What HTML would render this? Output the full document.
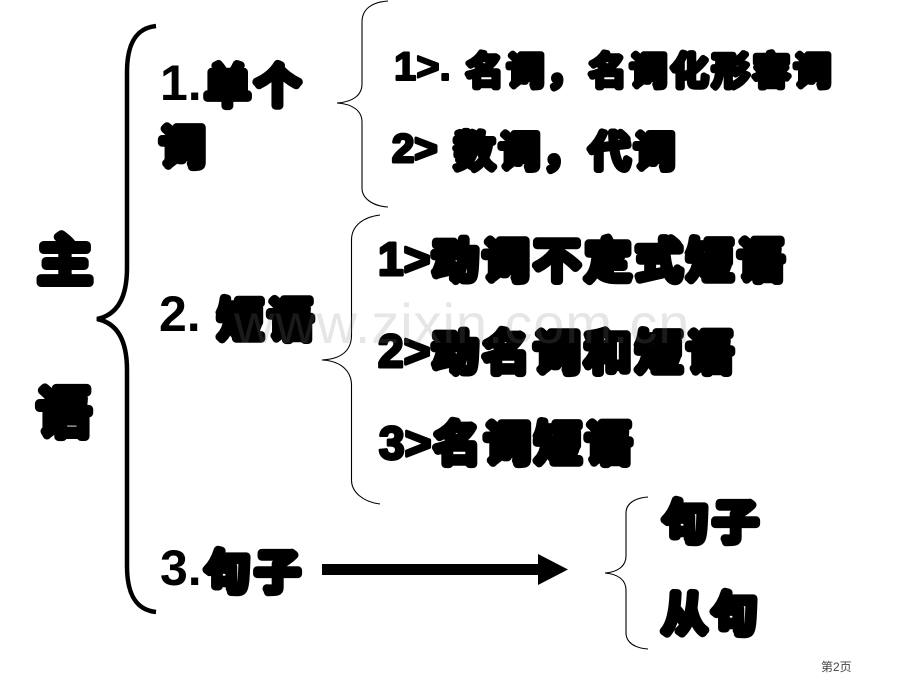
<!DOCTYPE html>
<html lang="zh">
<head>
<meta charset="utf-8">
<title>主语</title>
<style>
html,body{margin:0;padding:0;background:#fff;width:920px;height:690px;overflow:hidden}
svg{display:block}
.c{font-family:"Noto Sans CJK SC",sans-serif;font-weight:400;fill:#000;stroke:#000;stroke-linejoin:round;stroke-linecap:round;paint-order:stroke}
.d{font-family:"Liberation Sans",sans-serif;font-weight:700;fill:#000;stroke:#000;stroke-linejoin:round;paint-order:stroke}
.n{font-family:"Liberation Sans",sans-serif;font-weight:700;fill:#000}
.b{fill:none;stroke:#000;stroke-width:1.1}
</style>
</head>
<body>
<svg width="920" height="690" viewBox="0 0 920 690" xmlns="http://www.w3.org/2000/svg">
<!-- braces -->
<path d="M156 26C137 28 127 42 127 72L127 268C127 298 117 315 97 319C117 323 127 340 127 370L127 566C127 596 137 610 156 612" fill="none" stroke="#000" stroke-width="4.5"/>
<path class="b" d="M388 1C372 2 362 9 362 22L362 84C362 95 353 102 337 103C353 104 362 111 362 122L362 188C362 198 372 206 388 207"/>
<path class="b" d="M380 215C363 217 351.500 226 351.500 240L351.500 335C351.500 350 342 359 322 360C342 361 351.500 372 351.500 385L351.500 480C351.500 492 363 502 380 504"/>
<path class="b" d="M648 497C634 498 626 504 626 513L626 556C626 566 618 572 605 573C618 574 626 580 626 590L626 633C626 642 634 648 648 649"/>
<!-- arrow -->
<rect x="322" y="564" width="218" height="11" fill="#000"/>
<polygon points="538,554 568,569.500 538,585" fill="#000"/>
<!-- left -->
<text class="c" x="38" y="280" font-size="54" stroke-width="9">主</text>
<text class="c" x="37" y="432" font-size="54" stroke-width="9">语</text>
<!-- level 1 -->
<text class="n" x="160" y="100" font-size="50">1.</text>
<text class="c" x="205" y="102" font-size="45" stroke-width="8.500" letter-spacing="5">单个</text>
<text class="c" x="160" y="163" font-size="45" stroke-width="8.500">词</text>
<text class="n" x="159" y="331" font-size="50">2.</text>
<text class="c" x="218" y="336" font-size="45" stroke-width="8.500" letter-spacing="5">短语</text>
<text class="n" x="160" y="585" font-size="50">3.</text>
<text class="c" x="205" y="588" font-size="45" stroke-width="8.500" letter-spacing="5">句子</text>
<!-- group 1 -->
<text class="d" x="394" y="80" font-size="40" stroke-width="2">1&gt;.</text>
<text class="c" x="466" y="84" font-size="37" stroke-width="6.500" letter-spacing="4">名词，名词化形容词</text>
<text class="d" x="392" y="162" font-size="40" stroke-width="3">2&gt;</text>
<text class="c" x="454" y="166" font-size="41" stroke-width="7" letter-spacing="4">数词，代词</text>
<!-- group 2 -->
<text class="d" x="378" y="275" font-size="46" stroke-width="3">1&gt;</text>
<text class="c" x="432" y="277" font-size="46" stroke-width="8.500" letter-spacing="5">动词不定式短语</text>
<text class="d" x="378" y="367" font-size="46" stroke-width="3">2&gt;</text>
<text class="c" x="432" y="369" font-size="46" stroke-width="8.500" letter-spacing="5">动名词和短语</text>
<text class="d" x="379" y="459" font-size="46" stroke-width="3">3&gt;</text>
<text class="c" x="434" y="460" font-size="46" stroke-width="8.500" letter-spacing="4.500">名词短语</text>
<!-- group 3 -->
<text class="c" x="663" y="538" font-size="45" stroke-width="8.500" letter-spacing="5">句子</text>
<text class="c" x="662" y="630" font-size="45" stroke-width="8.500" letter-spacing="5">从句</text>
<!-- watermark -->
<text x="234" y="343" font-family="'Liberation Sans',sans-serif" font-size="56" letter-spacing="0.9" fill="#808080" fill-opacity="0.2">www.zixin.com.cn</text>
<!-- page number -->
<text x="821" y="671" font-family="'Liberation Sans','Noto Sans CJK SC',sans-serif" font-size="12" fill="#444">第2页</text>
</svg>
</body>
</html>
